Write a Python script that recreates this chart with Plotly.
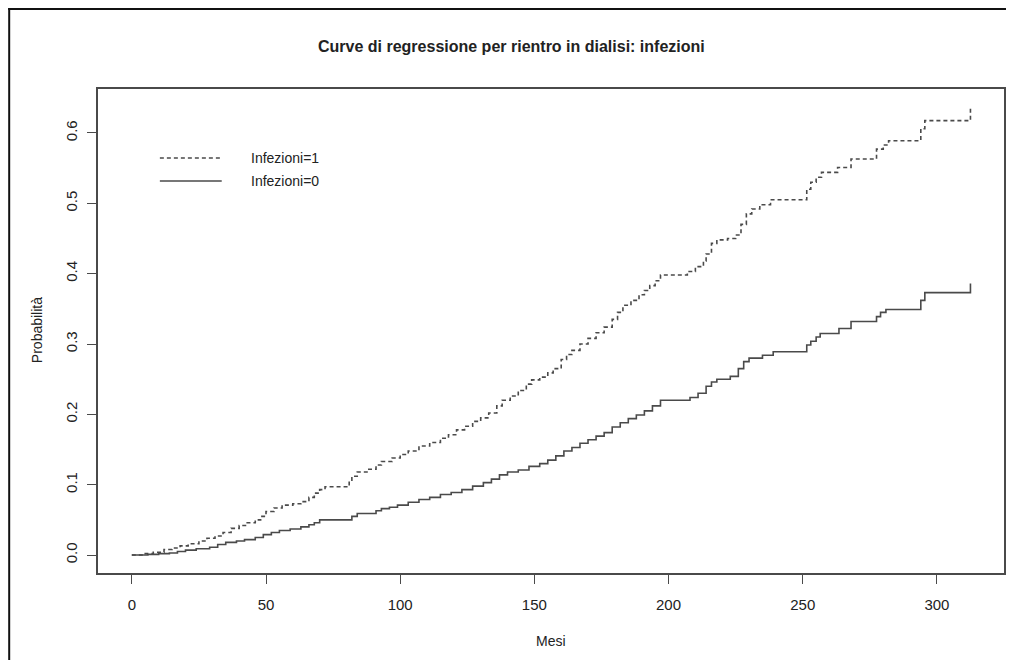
import plotly.graph_objects as go

# ---- data ----
mesi_inf1 = [0, 5, 8, 12, 15, 18, 21, 25, 28, 31, 34, 37, 40, 43, 46, 48, 50, 53, 56, 60,
             63, 66, 68, 70, 72, 81, 82, 84, 88, 91, 93, 97, 100, 103, 107, 111, 115, 118,
             121, 124, 127, 130, 133, 136, 138, 141, 144, 147, 149, 152, 155, 157, 160, 162,
             164, 167, 170, 173, 176, 179, 181, 183, 186, 189, 191, 193, 195, 197, 207, 210,
             213, 214, 216, 218, 222, 225, 227, 229, 231, 234, 238, 251.5, 253, 255, 257,
             263, 268, 277.5, 280, 282, 294, 295.5, 312.5, 312.5]
prob_inf1 = [0.0, 0.002, 0.004, 0.008, 0.010, 0.013, 0.016, 0.020, 0.024, 0.027, 0.032, 0.038,
             0.042, 0.046, 0.050, 0.055, 0.062, 0.067, 0.071, 0.073, 0.076, 0.082, 0.088, 0.093,
             0.097, 0.105, 0.112, 0.118, 0.122, 0.128, 0.133, 0.138, 0.143, 0.148, 0.155, 0.160,
             0.166, 0.171, 0.178, 0.183, 0.190, 0.195, 0.202, 0.212, 0.220, 0.226, 0.234, 0.243,
             0.249, 0.253, 0.259, 0.265, 0.278, 0.285, 0.291, 0.300, 0.308, 0.316, 0.324, 0.335,
             0.345, 0.355, 0.362, 0.370, 0.376, 0.383, 0.390, 0.398, 0.403, 0.410, 0.418, 0.428,
             0.443, 0.448, 0.450, 0.455, 0.470, 0.485, 0.492, 0.498, 0.505, 0.520, 0.530, 0.537,
             0.544, 0.551, 0.563, 0.577, 0.583, 0.589, 0.606, 0.6175, 0.6175, 0.635]

mesi_inf0 = [0, 6, 10, 14, 17, 20, 24, 29, 32, 35, 39, 42, 46, 49, 52, 55, 59, 63, 66, 68,
             70, 82, 84, 91, 93, 96, 99, 103, 107, 111, 115, 119, 123, 127, 131, 134, 137,
             140, 144, 148, 152, 155, 158, 161, 164, 167, 170, 173, 176, 179, 182, 185, 188,
             191, 194, 197, 208, 211, 214, 216, 218, 223, 226, 228, 230, 235, 239, 251.5, 253,
             255, 256.5, 263.5, 268, 277.5, 279, 281, 294, 295.5, 312.5, 312.5]
prob_inf0 = [0.0, 0.001, 0.002, 0.003, 0.005, 0.007, 0.009, 0.011, 0.015, 0.018, 0.020, 0.022,
             0.025, 0.029, 0.032, 0.035, 0.037, 0.040, 0.043, 0.046, 0.050, 0.055, 0.059, 0.063,
             0.066, 0.068, 0.071, 0.075, 0.079, 0.082, 0.086, 0.089, 0.093, 0.098, 0.103, 0.108,
             0.114, 0.118, 0.121, 0.126, 0.130, 0.135, 0.141, 0.148, 0.153, 0.159, 0.164, 0.169,
             0.174, 0.182, 0.188, 0.194, 0.199, 0.205, 0.212, 0.220, 0.224, 0.230, 0.240, 0.246,
             0.250, 0.254, 0.265, 0.275, 0.280, 0.284, 0.289, 0.2986, 0.304, 0.310, 0.315, 0.322,
             0.332, 0.339, 0.345, 0.349, 0.362, 0.373, 0.373, 0.386]

x_ticks = [0, 50, 100, 150, 200, 250, 300]
y_ticks = [0.0, 0.1, 0.2, 0.3, 0.4, 0.5, 0.6]
y_ticktext = ["0.0", "0.1", "0.2", "0.3", "0.4", "0.5", "0.6"]

title_text = "Curve di regressione per rientro in dialisi: infezioni"
x_title = "Mesi"
y_title = "Probabilità"
legend_labels = ["Infezioni=1", "Infezioni=0"]

# ---- figure ----
# the page body has an 8px margin; the figure is sized to fit inside the window
OFF = 8
W, H = 1000, 652
ML, MR, MT, MB = 90, 2, 81, 87          # plot box at page x 98..1006, y 89..573
PW, PH = W - ML - MR, H - MT - MB


def px(xp):
    """page x pixel -> paper coordinate"""
    return (xp - OFF - ML) / PW


def py(yp):
    """page y pixel -> paper coordinate"""
    return (H - MB - (yp - OFF)) / PH


FONT = "Liberation Sans, Arial, Helvetica, sans-serif"
LINE_COL = "#4a4a4a"
TXT_COL = "#222222"

fig = go.Figure()
fig.add_trace(go.Scatter(x=mesi_inf1, y=prob_inf1, mode="lines", line_shape="hv",
                         name=legend_labels[0],
                         line=dict(color=LINE_COL, width=1.6, dash="4px,3px")))
fig.add_trace(go.Scatter(x=mesi_inf0, y=prob_inf0, mode="lines", line_shape="hv",
                         name=legend_labels[1],
                         line=dict(color=LINE_COL, width=1.6)))

fig.update_layout(
    width=W, height=H,
    margin=dict(l=ML, r=MR, t=MT, b=MB),
    paper_bgcolor="white", plot_bgcolor="white",
    showlegend=False,
    font=dict(family=FONT, color=TXT_COL, size=15),
    xaxis=dict(range=[-12.6, 325], tickvals=x_ticks, ticks="outside", ticklen=9,
               tickwidth=1.3, tickcolor=LINE_COL, showline=True, mirror=True,
               linecolor=LINE_COL, linewidth=1.6, showgrid=False, zeroline=False,
               tickfont=dict(size=15, family=FONT, color=TXT_COL), ticklabelstandoff=8),
    yaxis=dict(range=[-0.0255, 0.6625], tickvals=y_ticks, ticktext=y_ticktext,
               tickangle=-90, ticks="outside", ticklen=9, tickwidth=1.3,
               tickcolor=LINE_COL, showline=True, mirror=True, linecolor=LINE_COL,
               linewidth=1.6, showgrid=False, zeroline=False,
               tickfont=dict(size=15, family=FONT, color=TXT_COL), ticklabelstandoff=4),
)

annotations = [
    dict(text="<b>" + title_text + "</b>", x=px(512), y=py(47), xref="paper", yref="paper",
         xanchor="center", yanchor="middle", showarrow=False,
         font=dict(size=16, family=FONT, color=TXT_COL)),
    dict(text=x_title, x=px(552), y=py(641), xref="paper", yref="paper",
         xanchor="center", yanchor="middle", showarrow=False,
         font=dict(size=14, family=FONT, color=TXT_COL)),
    dict(text=y_title, x=px(37), y=py(330), xref="paper", yref="paper",
         xanchor="center", yanchor="middle", textangle=-90, showarrow=False,
         font=dict(size=14, family=FONT, color=TXT_COL)),
    dict(text=legend_labels[0], x=px(249), y=py(158), xref="paper", yref="paper",
         xanchor="left", yanchor="middle", showarrow=False,
         font=dict(size=14, family=FONT, color=TXT_COL)),
    dict(text=legend_labels[1], x=px(249), y=py(181), xref="paper", yref="paper",
         xanchor="left", yanchor="middle", showarrow=False,
         font=dict(size=14, family=FONT, color=TXT_COL)),
]
fig.update_layout(annotations=annotations)

shapes = [
    # outer frame of the picture: only the left and top edges are visible
    dict(type="line", xref="paper", yref="paper", x0=px(9), x1=px(9),
         y0=py(OFF + H), y1=py(8), line=dict(color="#111111", width=2), layer="above"),
    dict(type="line", xref="paper", yref="paper", x0=px(8), x1=px(OFF + W),
         y0=py(9), y1=py(9), line=dict(color="#111111", width=2), layer="above"),
    # legend samples
    dict(type="line", xref="paper", yref="paper", x0=px(160), x1=px(222), y0=py(158), y1=py(158),
         line=dict(color=LINE_COL, width=1.6, dash="4px,3px")),
    dict(type="line", xref="paper", yref="paper", x0=px(160), x1=px(222), y0=py(181), y1=py(181),
         line=dict(color=LINE_COL, width=1.6)),
]
fig.update_layout(shapes=shapes)

fig.write_html("out.html")
